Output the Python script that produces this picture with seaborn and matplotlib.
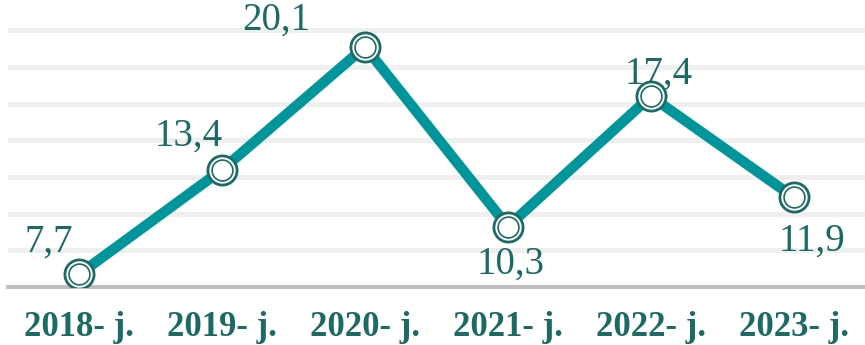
import matplotlib
matplotlib.use('Agg')

import matplotlib.pyplot as plt
import seaborn as sns
import pandas as pd

years = ['2018- j.', '2019- j.', '2020- j.', '2021- j.', '2022- j.', '2023- j.']
values = [7.7, 13.4, 20.1, 10.3, 17.4, 11.9]
value_labels = ['7,7', '13,4', '20,1', '10,3', '17,4', '11,9']

# label offsets in points (dx, dy) relative to each marker
offsets = [(-22, 23), (-24, 24), (-64, 19), (2, -27), (6, 16), (13, -32)]

LINE = '#00959a'
DARK = '#1b6a64'

sns.set_theme(style='white')
plt.rcParams['font.family'] = ['Liberation Serif', 'DejaVu Serif']

df = pd.DataFrame({'year': years, 'value': values})

fig = plt.figure(figsize=(8.65, 3.45), dpi=100)
ax = fig.add_axes([0.009, 0.168, 0.991, 0.832])

sns.lineplot(data=df, x='year', y='value', ax=ax, color=LINE, linewidth=7.5,
             zorder=3)
# double-ring markers
sns.scatterplot(data=df, x='year', y='value', ax=ax, s=21 ** 2,
                facecolor='white', edgecolor=DARK, linewidth=2.0, zorder=4)
sns.scatterplot(data=df, x='year', y='value', ax=ax, s=15 ** 2,
                facecolor='white', edgecolor=DARK, linewidth=1.2, zorder=5)

for i, (v, lab) in enumerate(zip(values, value_labels)):
    ax.annotate(lab, (i, v), xytext=offsets[i], textcoords='offset points',
                ha='center', va='center', fontsize=28, color=DARK)

ax.set_xlim(-0.5, 5.5)
ax.set_ylim(7, 22.65)
ax.set_yticks(range(9, 22, 2))
ax.grid(axis='y', color='#efefef', linewidth=3.6, zorder=0)
ax.set_axisbelow(True)
ax.set_yticklabels([])
ax.tick_params(axis='y', length=0)
ax.tick_params(axis='x', length=0, pad=17)
for lab in ax.get_xticklabels():
    lab.set_fontweight('bold')
    lab.set_fontsize(25)
    lab.set_color(DARK)
ax.set_xlabel('')
ax.set_ylabel('')
for s in ['top', 'right', 'left']:
    ax.spines[s].set_visible(False)
ax.spines['bottom'].set_color('#bfbfbf')
ax.spines['bottom'].set_linewidth(3)
ax.spines['bottom'].set_zorder(1)

fig.savefig('out.png', dpi=100)
plt.close(fig)
